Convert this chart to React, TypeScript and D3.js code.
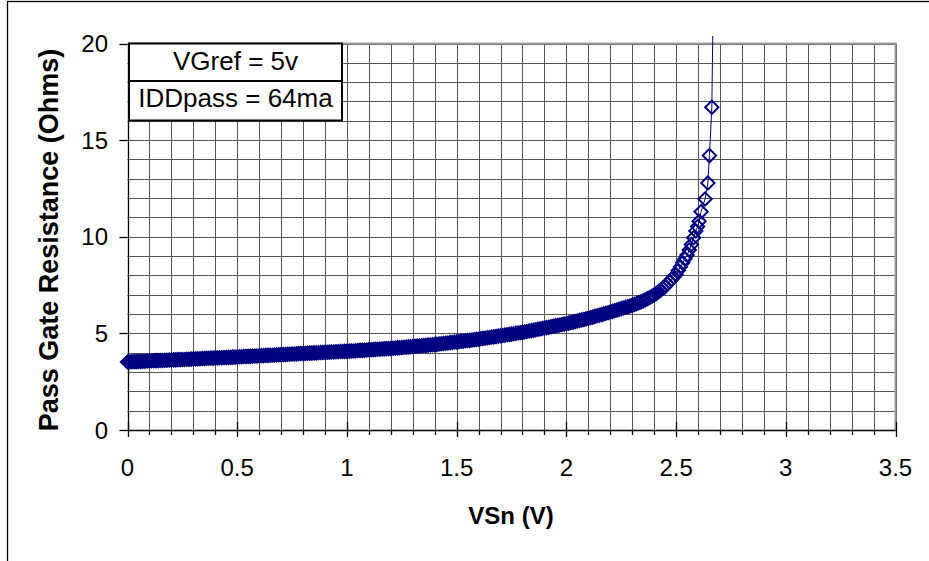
import React from 'react';
import * as d3 from 'd3';

const vsn = [
  0.00, 0.01, 0.02, 0.03, 0.04, 0.05, 0.06, 0.07, 0.08, 0.09,
  0.10, 0.11, 0.12, 0.13, 0.14, 0.15, 0.16, 0.17, 0.18, 0.19,
  0.20, 0.21, 0.22, 0.23, 0.24, 0.25, 0.26, 0.27, 0.28, 0.29,
  0.30, 0.31, 0.32, 0.33, 0.34, 0.35, 0.36, 0.37, 0.38, 0.39,
  0.40, 0.41, 0.42, 0.43, 0.44, 0.45, 0.46, 0.47, 0.48, 0.49,
  0.50, 0.51, 0.52, 0.53, 0.54, 0.55, 0.56, 0.57, 0.58, 0.59,
  0.60, 0.61, 0.62, 0.63, 0.64, 0.65, 0.66, 0.67, 0.68, 0.69,
  0.70, 0.71, 0.72, 0.73, 0.74, 0.75, 0.76, 0.77, 0.78, 0.79,
  0.80, 0.81, 0.82, 0.83, 0.84, 0.85, 0.86, 0.87, 0.88, 0.89,
  0.90, 0.91, 0.92, 0.93, 0.94, 0.95, 0.96, 0.97, 0.98, 0.99,
  1.00, 1.01, 1.02, 1.03, 1.04, 1.05, 1.06, 1.07, 1.08, 1.09,
  1.10, 1.11, 1.12, 1.13, 1.14, 1.15, 1.16, 1.17, 1.18, 1.19,
  1.20, 1.21, 1.22, 1.23, 1.24, 1.25, 1.26, 1.27, 1.28, 1.29,
  1.30, 1.31, 1.32, 1.33, 1.34, 1.35, 1.36, 1.37, 1.38, 1.39,
  1.40, 1.41, 1.42, 1.43, 1.44, 1.45, 1.46, 1.47, 1.48, 1.49,
  1.50, 1.51, 1.52, 1.53, 1.54, 1.55, 1.56, 1.57, 1.58, 1.59,
  1.60, 1.61, 1.62, 1.63, 1.64, 1.65, 1.66, 1.67, 1.68, 1.69,
  1.70, 1.71, 1.72, 1.73, 1.74, 1.75, 1.76, 1.77, 1.78, 1.79,
  1.80, 1.81, 1.82, 1.83, 1.84, 1.85, 1.86, 1.87, 1.88, 1.89,
  1.90, 1.91, 1.92, 1.93, 1.94, 1.95, 1.96, 1.97, 1.98, 1.99,
  2.00, 2.01, 2.02, 2.03, 2.04, 2.05, 2.06, 2.07, 2.08, 2.09,
  2.10, 2.11, 2.12, 2.13, 2.14, 2.15, 2.16, 2.17, 2.18, 2.19,
  2.20, 2.21, 2.22, 2.23, 2.24, 2.25, 2.26, 2.27, 2.28, 2.29,
  2.30, 2.31, 2.32, 2.33, 2.34, 2.35, 2.36, 2.37, 2.38, 2.39,
  2.40, 2.41, 2.42, 2.43, 2.44, 2.45, 2.46, 2.47, 2.48, 2.49,
  2.50, 2.51, 2.52, 2.53, 2.54, 2.55, 2.56, 2.57, 2.58, 2.59,
  2.598, 2.605, 2.614, 2.632, 2.645, 2.652, 2.663, 2.669,
];

const resistance = [
  3.52, 3.53, 3.53, 3.54, 3.54, 3.55, 3.55, 3.56, 3.56, 3.57,
  3.57, 3.58, 3.58, 3.59, 3.59, 3.60, 3.60, 3.61, 3.61, 3.62,
  3.62, 3.63, 3.63, 3.64, 3.64, 3.65, 3.65, 3.66, 3.66, 3.67,
  3.68, 3.68, 3.69, 3.69, 3.70, 3.70, 3.71, 3.71, 3.72, 3.72,
  3.73, 3.73, 3.74, 3.74, 3.75, 3.75, 3.76, 3.76, 3.77, 3.77,
  3.78, 3.79, 3.79, 3.80, 3.80, 3.81, 3.81, 3.82, 3.83, 3.83,
  3.84, 3.84, 3.85, 3.86, 3.86, 3.87, 3.87, 3.88, 3.89, 3.89,
  3.90, 3.90, 3.91, 3.92, 3.92, 3.93, 3.93, 3.94, 3.95, 3.95,
  3.96, 3.96, 3.97, 3.98, 3.98, 3.99, 3.99, 4.00, 4.01, 4.01,
  4.02, 4.02, 4.03, 4.04, 4.04, 4.05, 4.05, 4.06, 4.06, 4.07,
  4.07, 4.08, 4.09, 4.09, 4.10, 4.11, 4.12, 4.12, 4.13, 4.14,
  4.15, 4.15, 4.16, 4.17, 4.18, 4.18, 4.19, 4.20, 4.21, 4.21,
  4.22, 4.23, 4.24, 4.25, 4.26, 4.27, 4.28, 4.29, 4.30, 4.31,
  4.32, 4.33, 4.34, 4.35, 4.36, 4.37, 4.38, 4.39, 4.40, 4.41,
  4.42, 4.43, 4.45, 4.46, 4.48, 4.49, 4.50, 4.52, 4.53, 4.55,
  4.56, 4.57, 4.59, 4.60, 4.62, 4.63, 4.64, 4.66, 4.67, 4.69,
  4.70, 4.72, 4.74, 4.75, 4.77, 4.79, 4.81, 4.82, 4.84, 4.86,
  4.88, 4.89, 4.91, 4.93, 4.95, 4.96, 4.98, 5.00, 5.02, 5.03,
  5.05, 5.07, 5.10, 5.12, 5.14, 5.16, 5.19, 5.21, 5.23, 5.25,
  5.28, 5.30, 5.32, 5.34, 5.37, 5.39, 5.41, 5.43, 5.46, 5.48,
  5.50, 5.53, 5.56, 5.58, 5.61, 5.64, 5.67, 5.70, 5.72, 5.75,
  5.78, 5.81, 5.84, 5.88, 5.91, 5.94, 5.97, 6.00, 6.04, 6.07,
  6.10, 6.14, 6.17, 6.21, 6.24, 6.28, 6.31, 6.35, 6.38, 6.42,
  6.45, 6.50, 6.54, 6.59, 6.63, 6.68, 6.74, 6.80, 6.86, 6.92,
  6.98, 7.07, 7.16, 7.24, 7.33, 7.42, 7.55, 7.67, 7.80, 7.92,
  8.05, 8.25, 8.45, 8.65, 8.85, 9.05, 9.32, 9.60, 9.95, 10.30,
  10.53, 10.80, 11.30, 11.95, 12.78, 14.20, 16.70, 22.0,
];

const xTicks = [0, 0.5, 1, 1.5, 2, 2.5, 3, 3.5];
const xTickLabels = ['0', '0.5', '1', '1.5', '2', '2.5', '3', '3.5'];
const yTicks = [0, 5, 10, 15, 20];
const yTickLabels = ['0', '5', '10', '15', '20'];
const legendLines = ['VGref = 5v', 'IDDpass = 64ma'];
const xTitle = 'VSn (V)';
const yTitle = 'Pass Gate Resistance (Ohms)';

const W = 929;
const H = 561;
const L = 127.5;
const R = 895.5;
const T = 43.5;
const B = 430;
const NAVY = '#000080';
const FONT = '"Liberation Sans", Arial, sans-serif';

export default function App() {
  const x = d3.scaleLinear().domain([0, 3.5]).range([L, R]);
  const y = d3.scaleLinear().domain([0, 20]).range([B, T]);
  const xGrid = x.ticks(35);
  const yGrid = y.ticks(20);
  const pts = vsn.map((v, i) => [v, resistance[i]] as [number, number]);
  const line = d3.line<[number, number]>().x((d) => x(d[0])).y((d) => y(d[1]));
  const sym = d3.symbol().type(d3.symbolSquare).size(88)();
  const px = (v: number) => Math.round(v) + 0.5;

  return (
    <svg width={W} height={H} style={{ position: 'absolute', left: 0, top: 0, background: '#fff' }}>
      <defs>
        <clipPath id="clipTop">
          <rect x={0} y={36} width={W} height={H} />
        </clipPath>
      </defs>
      <rect x={7.5} y={1.5} width={1000} height={1000} fill="#fff" stroke="#000" strokeWidth={1.3} />
      {xGrid.map((t, i) => (
        <line key={'gx' + i} x1={px(x(t))} x2={px(x(t))} y1={T} y2={B} stroke="#555" strokeWidth={1} />
      ))}
      {yGrid.map((t, i) => (
        <line key={'gy' + i} x1={L} x2={R} y1={px(y(t))} y2={px(y(t))} stroke="#555" strokeWidth={1} />
      ))}
      <line x1={L} x2={R + 1} y1={T} y2={T} stroke="#9a9a9a" strokeWidth={2} />
      <line x1={R} x2={R} y1={T} y2={B} stroke="#9a9a9a" strokeWidth={2} />
      <line x1={px(L)} x2={px(L)} y1={T} y2={B} stroke="#000" strokeWidth={1.3} />
      <line x1={L} x2={R} y1={px(B)} y2={px(B)} stroke="#000" strokeWidth={1.3} />
      {xGrid.map((t, i) => {
        const major = xTicks.some((m) => Math.abs(m - t) < 1e-6);
        return (
          <line key={'tx' + i} x1={px(x(t))} x2={px(x(t))} y1={major ? B - 8 : B} y2={major ? B + 7 : B + 5} stroke="#000" strokeWidth={1.3} />
        );
      })}
      {yTicks.map((t, i) => (
        <line key={'ty' + i} x1={L - 8} x2={L} y1={px(y(t))} y2={px(y(t))} stroke="#000" strokeWidth={1.3} />
      ))}
      {xTicks.map((t, i) => (
        <text key={'lx' + i} x={x(t)} y={476} textAnchor="middle" fontFamily={FONT} fontSize={24} fill="#000">
          {xTickLabels[i]}
        </text>
      ))}
      {yTicks.map((t, i) => (
        <text key={'ly' + i} x={108} y={y(t) + 8.5} textAnchor="end" fontFamily={FONT} fontSize={24} fill="#000">
          {yTickLabels[i]}
        </text>
      ))}
      <text x={511} y={524} textAnchor="middle" fontFamily={FONT} fontSize={24} fontWeight="bold" fill="#000">
        {xTitle}
      </text>
      <text transform={`translate(58,240) rotate(-90)`} textAnchor="middle" fontFamily={FONT} fontSize={27} fontWeight="bold" fill="#000">
        {yTitle}
      </text>
      <g clipPath="url(#clipTop)">
        <path d={line(pts) || ''} fill="none" stroke={NAVY} strokeWidth={1} />
        {pts.map((d, i) => (
          <path key={'m' + i} d={sym} transform={`translate(${x(d[0])},${y(d[1])}) rotate(45)`} fill="none" stroke={NAVY} strokeWidth={2} />
        ))}
      </g>
      <rect x={129} y={43.5} width={213} height={77} fill="#fff" stroke="#000" strokeWidth={2} />
      <line x1={129} x2={342} y1={81} y2={81} stroke="#000" strokeWidth={2} />
      {legendLines.map((s, i) => (
        <text key={'lg' + i} x={235.5} y={i === 0 ? 70 : 107} textAnchor="middle" fontFamily={FONT} fontSize={26} fill="#000">
          {s}
        </text>
      ))}
    </svg>
  );
}
